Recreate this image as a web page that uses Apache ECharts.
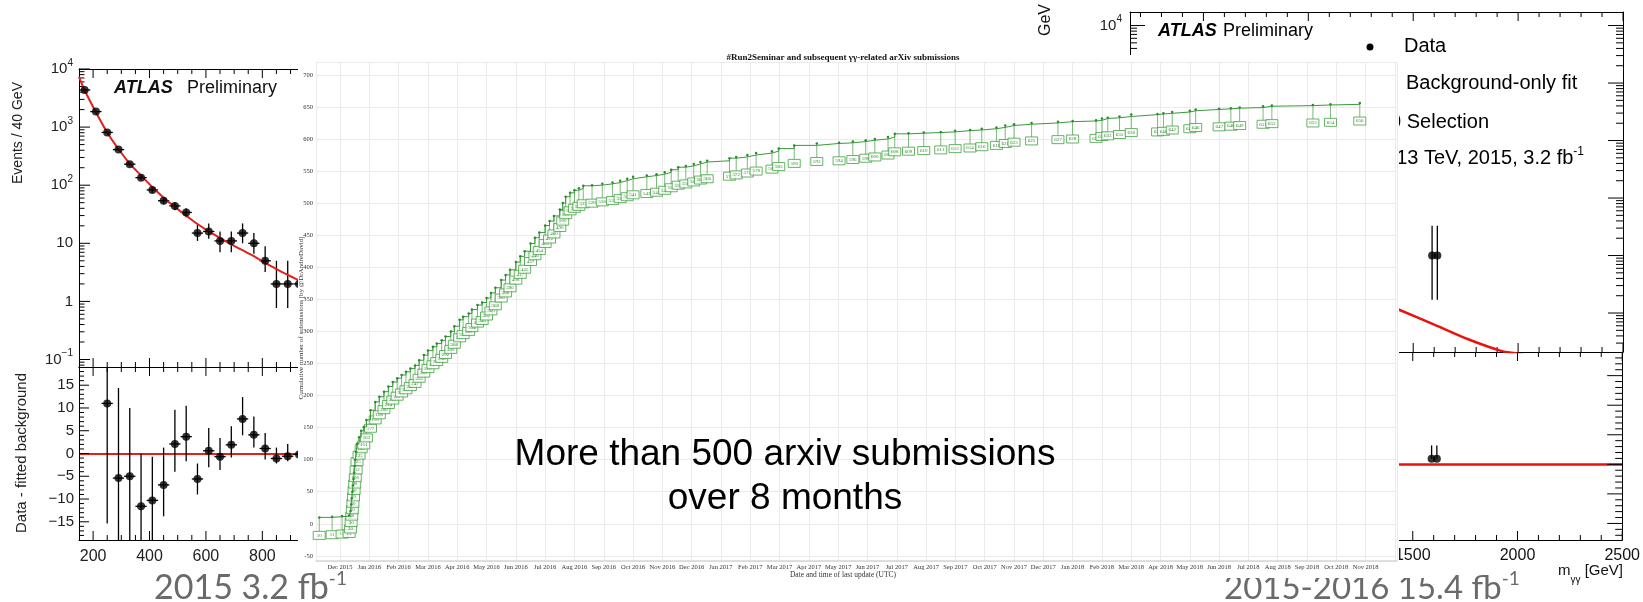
<!DOCTYPE html>
<html><head><meta charset="utf-8">
<script src="https://cdn.jsdelivr.net/npm/echarts@6/dist/echarts.min.js"></script>
<style>html,body{margin:0;padding:0;background:#fff}#c{width:1643px;height:602px}</style>
</head><body><div id="c"></div>
<script>
// ================= DATA =================
// Left panel: ATLAS Preliminary, 2015, 3.2 fb-1 (m_yy in GeV, 40 GeV bins)
const leftMass   = [170,210,250,290,330,370,410,450,490,530,570,610,650,690,730,770,810,850,890,930];
const leftEvents = [4350,1850,810,410,230,135,83,54,44,34,15,16,11,11,15,10,5,2,2,2];
const leftErrHi  = [4420,1890,840,430,245,147,92,62,51,40,21,22,16,16,22,15,8.9,5.0,5.0,5.0];
const leftErrLo  = [4280,1810,780,390,215,123,74,47,37,28,11,12,7,7,10,6.6,3.2,0.77,0.77,0.77];
const leftFitMass = [150,170,210,250,290,330,370,410,450,490,530,570,610,650,690,730,770,810,850,890,930,970];
const leftFit     = [7300,4300,1800,810,420,235,147,93,61,42,30,21.5,16,12.3,9.6,7.6,6.0,4.6,3.6,2.85,2.3,1.85];
const leftResid = [null,null,11.0,-5.4,-5.0,-11.6,-10.3,-6.9,2.1,3.7,-5.6,0.6,-0.7,1.9,7.6,4.1,1.1,-1.1,-0.6,-0.2];
const leftResHi = [null,null,19,14.4,10,0,-0.7,1.3,9.6,10.5,-2.2,5.6,3.4,6.0,12.4,8.1,4.5,1.3,2.1,2.6];
const leftResLo = [null,null,-15.4,-19,-19,-19,-19,-13.8,-4.0,-1.7,-9.0,-3.0,-3.6,-0.9,4.0,1.3,-1.3,-2.2,-1.7,-1.5];

// Middle panel: cumulative yy-related arXiv submissions (x = months after 1 Dec 2015)
const monthLabels = ['Dec 2015','Jan 2016','Feb 2016','Mar 2016','Apr 2016','May 2016','Jun 2016','Jul 2016','Aug 2016','Sep 2016','Oct 2016','Nov 2016','Dec 2016','Jan 2017','Feb 2017','Mar 2017','Apr 2017','May 2017','Jun 2017','Jul 2017','Aug 2017','Sep 2017','Oct 2017','Nov 2017','Dec 2017','Jan 2018','Feb 2018','Mar 2018','Apr 2018','May 2018','Jun 2018','Jul 2018','Aug 2018','Sep 2018','Oct 2018','Nov 2018'];
const submissions = [
[-0.71,10],[-0.27,11],[0.07,12],[0.31,13],[0.36,20],[0.38,30],[0.40,40],[0.42,50],[0.44,60],[0.46,70],[0.48,80],[0.50,90],[0.52,100],[0.55,112],[0.58,125],[0.65,135],[0.72,145],[0.81,151],[0.90,162],[1.04,177],[1.20,190],[1.34,198],[1.50,206],[1.65,214],[1.80,221],[1.95,227],[2.10,232],[2.25,237],[2.40,242],[2.56,247],[2.70,255],[2.86,263],[3.00,270],[3.17,276],[3.30,281],[3.47,286],[3.60,292],[3.78,300],[3.90,308],[4.08,318],[4.20,323],[4.39,328],[4.50,334],[4.69,341],[4.85,345],[5.00,352],[5.15,360],[5.30,368],[5.50,380],[5.65,388],[5.80,396],[6.00,408],[6.15,417],[6.30,425],[6.50,437],[6.65,446],[6.80,454],[7.00,465],[7.15,472],[7.30,480],[7.50,490],[7.60,500],[7.70,510],[7.85,516],[8.00,520],[8.15,523],[8.30,527],[8.60,528],[8.95,530],[9.30,532],[9.56,535],[9.80,538],[10.00,541],[10.47,543],[10.80,545],[11.08,548],[11.30,552],[11.54,556],[11.80,558],[12.07,561],[12.30,564],[12.53,566],[13.29,570],[13.52,572],[13.90,575],[14.20,578],[14.74,581],[14.97,585],[15.50,590],[16.27,593],[17.03,594],[17.50,596],[17.94,598],[18.25,600],[18.70,603],[18.93,608],[19.40,609],[19.92,610],[20.50,611],[20.99,613],[21.50,614],[21.90,616],[22.40,618],[22.70,621],[23.00,623],[23.60,625],[24.50,627],[25.00,628],[25.80,629],[26.00,632],[26.20,633],[26.60,635],[27.00,638],[27.90,639],[28.10,640],[28.40,642],[29.00,644],[29.20,646],[30.00,647],[30.40,648],[30.70,649],[31.50,651],[31.80,652],[33.20,653],[33.80,654],[34.80,656]
];

// Right panel: ATLAS Preliminary 2015-2016 (visible high-mass part only)
const rightMass    = [1590,1615];
const rightEvents  = [1,1];
const rightErrHi   = [3.3,3.3];
const rightErrLo   = [0.17,0.17];
const rightFitMass = [1350,1433,1600,1762,1919,2000,2100];
const rightFit     = [0.15,0.114,0.063,0.035,0.022,0.0195,0.016];
const rightResid   = [0.95,0.95];
const rightResHi   = [3.2,3.2];
const rightResLo   = [0.95,0.95];

// tick values
const decades = [0.01,0.1,1,10,100,1000,10000];
const logMult = [2,3,4,5,6,7,8,9];

// ================= HELPERS =================
const SANS = 'Liberation Sans, Arial, Helvetica, sans-serif';
const SERIF = 'Liberation Serif, Times New Roman, serif';
const FOOT = 'Lato, Open Sans, sans-serif';
const L = {x:[150,969], y1:[0.0743,10000], y2:[-19,19]};
const R = {x:[150,2500], y1:[0.021,17200], y2:[-12.8,19]};

function inRange(v, r){ return v > r[0] && v < r[1]; }
function logMinor(r){ const out=[]; decades.forEach(d=>logMult.forEach(m=>{const v=+(d*m).toPrecision(3); if(inRange(v,r)) out.push(v);})); return out; }
function steps(a,b,s,skip){ const out=[]; for(let v=a; v<=b+1e-9; v+=s){ const vv=+v.toFixed(4); if(!skip || Math.abs(vv/skip-Math.round(vv/skip))>1e-6) out.push(vv);} return out; }

function tickSeries(xi, yi, side, major, minor, lenMaj, lenMin, xr, yr){
  const data=[];
  const add=(v,len)=>{
    if(side==='left') data.push([xr[0],v,len]);
    else if(side==='right') data.push([xr[1],v,len]);
    else if(side==='top') data.push([v,yr[1],len]);
    else data.push([v,yr[0],len]);
  };
  major.forEach(v=>add(v,lenMaj)); minor.forEach(v=>add(v,lenMin));
  return {type:'custom', xAxisIndex:xi, yAxisIndex:yi, z:3, silent:true, data,
    renderItem(params, api){
      const p=api.coord([api.value(0),api.value(1)]); const len=api.value(2);
      let x2=p[0], y2=p[1];
      if(side==='left') x2+=len; else if(side==='right') x2-=len; else if(side==='top') y2+=len; else y2-=len;
      return {type:'line', shape:{x1:p[0],y1:p[1],x2:x2,y2:y2}, style:{stroke:'#000',lineWidth:1}};
    }};
}
function errSeries(xi, yi, xs, vals, lo, hi, hw){
  const data=[];
  xs.forEach((x,i)=>{ if(vals[i]!=null) data.push([x,lo[i],hi[i],vals[i]]); });
  return {type:'custom', xAxisIndex:xi, yAxisIndex:yi, z:3, silent:true, data,
    renderItem(params, api){
      const x=api.value(0);
      const a=api.coord([x,api.value(1)]), b=api.coord([x,api.value(2)]);
      const ch=[{type:'line', shape:{x1:a[0],y1:a[1],x2:b[0],y2:b[1]}, style:{stroke:'#000',lineWidth:1.3}}];
      if(hw){ const c=api.coord([x-hw,api.value(3)]), d=api.coord([x+hw,api.value(3)]);
        ch.push({type:'line', shape:{x1:c[0],y1:c[1],x2:d[0],y2:d[1]}, style:{stroke:'#000',lineWidth:1.3}}); }
      return {type:'group', children:ch};
    }};
}
function pts(xs, ys){ const o=[]; xs.forEach((x,i)=>{ if(ys[i]!=null) o.push([x,ys[i]]); }); return o; }
const powRich = {b:{fontSize:15,fontFamily:SANS,color:'#222',lineHeight:22,verticalAlign:'middle'},
                 s:{fontSize:10,fontFamily:SANS,color:'#222',lineHeight:22,verticalAlign:'top'}};
function pow10(v){ const e=Math.round(Math.log10(v)); if(e===0) return '{b|1}'; if(e===1) return '{b|10}'; return '{b|10}{s|'+(e<0?'\u2212'+(-e):e)+'}'; }
const blackLine = {show:true, onZero:false, lineStyle:{color:'#000',width:1}};
function frameX(grid, pos, r, extra){ return Object.assign({type:'value', gridIndex:grid, position:pos, min:r[0], max:r[1], z:3,
  axisLine:blackLine, axisTick:{show:false}, axisLabel:{show:false}, splitLine:{show:false}}, extra||{}); }
function zeroLine(color, width){ return {silent:true, z:3, symbol:['none','none'], label:{show:false},
  lineStyle:{color:color,width:width,type:'solid'}, data:[{yAxis:0}]}; }

// ================= OPTION =================
const chart = echarts.init(document.getElementById('c'), null, {renderer:'canvas', width:1643, height:602});
const option = {
  animation:false,
  backgroundColor:'#ffffff',
  grid:[
    {left:79, top:69, width:231, height:298},      // 0 left upper
    {left:79, top:367, width:231, height:173},     // 1 left lower
    {left:316, top:62, width:1081, height:499},    // 2 middle
    {left:1130, top:12, width:493, height:340},    // 3 right upper
    {left:1130, top:352, width:493, height:188}    // 4 right lower
  ],
  xAxis:[
    frameX(0,'bottom',L.x),
    frameX(0,'top',L.x),
    frameX(1,'bottom',L.x,{minInterval:200,maxInterval:200,
      axisLabel:{show:true,color:'#222',fontSize:16,fontFamily:SANS,margin:9,showMinLabel:false,showMaxLabel:false,formatter:v=>String(v)}}),
    frameX(1,'top',L.x),
    {type:'value', gridIndex:2, min:-0.82, max:36.07, minInterval:1, maxInterval:1, z:6,
      axisLine:{show:true,onZero:false,lineStyle:{color:'#d6d6d6',width:1.5}}, axisTick:{show:false},
      axisLabel:{formatter:v=>{const i=Math.round(v); return Math.abs(v-i)<1e-6 && monthLabels[i] ? monthLabels[i] : '';},
        fontSize:6.5,color:'#333',fontFamily:SERIF,margin:3,showMinLabel:false,showMaxLabel:false},
      splitLine:{show:true,lineStyle:{color:'#ebebeb',width:1}}},
    frameX(3,'top',R.x),
    frameX(3,'bottom',R.x),
    frameX(4,'top',R.x),
    frameX(4,'bottom',R.x,{minInterval:500,maxInterval:500,
      axisLabel:{show:true,color:'#111',fontSize:16,fontFamily:SANS,margin:8,showMinLabel:false,showMaxLabel:true,formatter:v=>String(v)}})
  ],
  yAxis:[
    {type:'log', logBase:10, gridIndex:0, position:'left', min:L.y1[0], max:L.y1[1], z:3, axisLine:blackLine, axisTick:{show:false},
      splitLine:{show:false}, axisLabel:{formatter:pow10, rich:powRich, margin:6, showMinLabel:false, showMaxLabel:true}},
    {type:'value', gridIndex:1, position:'left', min:L.y2[0], max:L.y2[1], minInterval:5, maxInterval:5, z:3, axisLine:blackLine,
      axisTick:{show:false}, splitLine:{show:false},
      axisLabel:{formatter:v=>v<0?'\u2212'+(-v):String(v), color:'#222', fontSize:15, fontFamily:SANS, margin:5, showMinLabel:false, showMaxLabel:false}},
    {type:'value', gridIndex:2, min:-58, max:720, minInterval:50, maxInterval:50, z:6,
      axisLine:{show:false,onZero:false}, axisTick:{show:false},
      axisLabel:{fontSize:6.5,color:'#333',fontFamily:SERIF,margin:3,showMinLabel:false,showMaxLabel:false},
      splitLine:{show:true,lineStyle:{color:'#ebebeb',width:1}}},
    {type:'log', logBase:10, gridIndex:3, position:'left', min:R.y1[0], max:R.y1[1], z:3, axisLine:blackLine, axisTick:{show:false},
      splitLine:{show:false}, axisLabel:{formatter:pow10, rich:powRich, margin:8, showMinLabel:false, showMaxLabel:false}},
    {type:'log', logBase:10, gridIndex:3, position:'right', min:R.y1[0], max:R.y1[1], z:3, axisLine:blackLine, axisTick:{show:false},
      splitLine:{show:false}, axisLabel:{show:false}},
    {type:'value', gridIndex:4, position:'right', min:R.y2[0], max:R.y2[1], z:3, axisLine:blackLine, axisTick:{show:false},
      splitLine:{show:false}, axisLabel:{show:false}}
  ],
  series:[
    // ---- left upper
    {type:'line', xAxisIndex:0, yAxisIndex:0, z:3, data:pts(leftFitMass,leftFit), smooth:0.3, symbol:'none',
      lineStyle:{color:'#e3201b',width:2}},
    errSeries(0,0,leftMass,leftEvents,leftErrLo,leftErrHi,20),
    {type:'scatter', xAxisIndex:0, yAxisIndex:0, z:4, data:pts(leftMass,leftEvents), symbolSize:8, itemStyle:{color:'#000'}},
    // ---- left lower
    {type:'scatter', xAxisIndex:2, yAxisIndex:1, z:4, data:pts(leftMass,leftResid), symbolSize:8, itemStyle:{color:'#000'},
      markLine:zeroLine('#e3201b',2)},
    errSeries(2,1,leftMass,leftResid,leftResLo,leftResHi,20),
    // ---- left ticks
    tickSeries(0,0,'left',decades.filter(v=>inRange(v,[0.07,10001])),logMinor(L.y1),11,5.5,L.x,L.y1),
    tickSeries(1,0,'top',[200,400,600,800],steps(250,950,50,200),9,5,L.x,L.y1),
    tickSeries(0,0,'bottom',[200,400,600,800],steps(250,950,50,200),9,5,L.x,L.y1),
    tickSeries(3,1,'top',[200,400,600,800],steps(250,950,50,200),9,5,L.x,L.y2),
    tickSeries(2,1,'bottom',[200,400,600,800],steps(250,950,50,200),9,5,L.x,L.y2),
    tickSeries(2,1,'left',[-15,-10,-5,0,5,10,15],steps(-18,18,1,5),10,5,L.x,L.y2),
    // ---- middle: step line and annotation boxes
    {type:'custom', xAxisIndex:4, yAxisIndex:2, z:7, silent:true, data:submissions,
      renderItem(params, api){
        const p=api.coord([api.value(0),api.value(1)]);
        const by=p[1]+14;
        return {type:'group', children:[
          {type:'line', shape:{x1:p[0],y1:p[1],x2:p[0],y2:by}, style:{stroke:'rgba(34,139,34,0.75)',lineWidth:0.8}},
          {type:'rect', shape:{x:p[0]-6,y:by,width:12,height:8}, style:{fill:'rgba(255,255,255,0.8)',stroke:'#3f9f3f',lineWidth:0.8}},
          {type:'text', style:{text:String(api.value(1)), x:p[0], y:by+4, align:'center', verticalAlign:'middle',
            fontSize:5, fontFamily:SERIF, fill:'#2f8a2f'}}
        ]};
      }},
    {type:'line', xAxisIndex:4, yAxisIndex:2, z:8, data:submissions, step:'end', showSymbol:true, showAllSymbol:true,
      symbol:'circle', symbolSize:2.5, itemStyle:{color:'#2e8b2e'}, lineStyle:{color:'#3a9a3a',width:1}},
    // ---- right upper
    {type:'line', xAxisIndex:6, yAxisIndex:3, z:3, data:pts(rightFitMass,rightFit), smooth:0.3, symbol:'none',
      lineStyle:{color:'#e8130f',width:2.5}},
    errSeries(6,3,rightMass,rightEvents,rightErrLo,rightErrHi,0),
    {type:'scatter', xAxisIndex:6, yAxisIndex:3, z:4, data:pts(rightMass,rightEvents), symbolSize:8, itemStyle:{color:'#000'}},
    // ---- right lower
    {type:'scatter', xAxisIndex:8, yAxisIndex:5, z:4, data:pts(rightMass,rightResid), symbolSize:8, itemStyle:{color:'#000'},
      markLine:zeroLine('#e8130f',2.5)},
    errSeries(8,5,rightMass,rightResid,rightResLo,rightResHi,0),
    // ---- right ticks
    tickSeries(5,3,'top',[500,1000,1500,2000,2500],steps(200,2400,100,500),9,5,R.x,R.y1),
    tickSeries(6,3,'bottom',[500,1000,1500,2000,2500],steps(200,2400,100,500),9,5,R.x,R.y1),
    tickSeries(7,5,'top',[500,1000,1500,2000,2500],steps(200,2400,100,500),9,5,R.x,R.y2),
    tickSeries(8,5,'bottom',[500,1000,1500,2000,2500],steps(200,2400,100,500),9,5,R.x,R.y2),
    tickSeries(6,3,'left',decades.filter(v=>inRange(v,R.y1)),logMinor(R.y1),15,7,R.x,R.y1),
    tickSeries(6,4,'right',decades.filter(v=>inRange(v,R.y1)),logMinor(R.y1),15,7,R.x,R.y1),
    tickSeries(8,5,'right',[-10,-5,0,5,10,15],steps(-12,18,1,5),15,7,R.x,R.y2)
  ],
  graphic:{elements:[
    // slide footers (drawn underneath the pasted plots)
    {type:'text', z:1, style:{text:'2015-2016 15.4 fb{s|-1}', x:1224, y:588, textAlign:'left', align:'left', textVerticalAlign:'middle', verticalAlign:'middle',
      fontSize:33, fontFamily:FOOT, fill:'#6a6a6a',
      rich:{s:{fontSize:19,fontFamily:FOOT,fill:'#6a6a6a',lineHeight:38,verticalAlign:'top'}}}},
    {type:'rect', z:2, shape:{x:1399,y:541,width:36,height:37}, style:{fill:'#fff'}},
    // right plot texts (under the middle panel)
    {type:'text', z:3, rotation:Math.PI/2, x:1046, y:20, style:{text:'GeV', x:0, y:0, textAlign:'center', align:'center', textVerticalAlign:'middle', verticalAlign:'middle', fontSize:16, fontFamily:SANS, fill:'#111'}},
    {type:'text', z:3, style:{text:'ATLAS', x:1158, y:31, textVerticalAlign:'middle', verticalAlign:'middle', fontSize:18, fontWeight:'bold', fontStyle:'italic', fontFamily:SANS, fill:'#000'}},
    {type:'text', z:3, style:{text:'Preliminary', x:1223, y:31, textVerticalAlign:'middle', verticalAlign:'middle', fontSize:18, fontFamily:SANS, fill:'#000'}},
    {type:'circle', z:3, shape:{cx:1370, cy:47, r:3.5}, style:{fill:'#000'}},
    {type:'text', z:3, style:{text:'Data', x:1404, y:46, textVerticalAlign:'middle', verticalAlign:'middle', fontSize:20, fontFamily:SANS, fill:'#000'}},
    {type:'text', z:3, style:{text:'Background-only fit', x:1406, y:83, textVerticalAlign:'middle', verticalAlign:'middle', fontSize:20, fontFamily:SANS, fill:'#000'}},
    {type:'text', z:3, style:{text:'Spin-0 Selection', x:1489, y:122, textAlign:'right', align:'right', textVerticalAlign:'middle', verticalAlign:'middle', fontSize:20, fontFamily:SANS, fill:'#000'}},
    {type:'text', z:3, style:{text:'\u221As = 13 TeV, 2015, 3.2 fb{s|-1}', x:1584, y:158, textAlign:'right', align:'right', textVerticalAlign:'middle', verticalAlign:'middle', fontSize:20, fontFamily:SANS, fill:'#000',
      rich:{s:{fontSize:12,fontFamily:SANS,fill:'#000',lineHeight:24,verticalAlign:'top'}}}},
    {type:'text', z:3, style:{text:'{a|m}{b|\u03B3\u03B3}{a| [GeV]}', x:1623, y:574, textAlign:'right', align:'right', textVerticalAlign:'middle', verticalAlign:'middle',
      rich:{a:{fontSize:15,fontFamily:SANS,fill:'#111',lineHeight:22,verticalAlign:'top'},b:{fontSize:10,fontFamily:SANS,fill:'#111',lineHeight:22,verticalAlign:'bottom'}}}},
    // left plot texts
    {type:'text', z:3, rotation:Math.PI/2, x:18, y:133, style:{text:'Events / 40 GeV', x:0, y:0, textAlign:'center', align:'center', textVerticalAlign:'middle', verticalAlign:'middle', fontSize:14, fontFamily:SANS, fill:'#222'}},
    {type:'text', z:3, rotation:Math.PI/2, x:22, y:453, style:{text:'Data - fitted background', x:0, y:0, textAlign:'center', align:'center', textVerticalAlign:'middle', verticalAlign:'middle', fontSize:15, fontFamily:SANS, fill:'#222'}},
    {type:'text', z:3, style:{text:'ATLAS', x:114, y:88, textVerticalAlign:'middle', verticalAlign:'middle', fontSize:18, fontWeight:'bold', fontStyle:'italic', fontFamily:SANS, fill:'#111'}},
    {type:'text', z:3, style:{text:'Preliminary', x:187, y:88, textVerticalAlign:'middle', verticalAlign:'middle', fontSize:18, fontFamily:SANS, fill:'#111'}},
    // middle panel (pasted on top)
    {type:'rect', z:5, shape:{x:298,y:55,width:1101,height:523}, style:{fill:'#fff'}},
    {type:'text', z:9, style:{text:'#Run2Seminar and subsequent \u03B3\u03B3-related arXiv submissions', x:843, y:58, textAlign:'center', align:'center', textVerticalAlign:'middle', verticalAlign:'middle', fontSize:9, fontWeight:'bold', fontFamily:SERIF, fill:'#111'}},
    {type:'text', z:9, rotation:Math.PI/2, x:301, y:318, style:{text:'Cumulative number of submissions [by @DrAndreDavid]', x:0, y:0, textAlign:'center', align:'center', textVerticalAlign:'middle', verticalAlign:'middle', fontSize:7, fontFamily:SERIF, fill:'#333'}},
    {type:'text', z:9, style:{text:'Date and time of last update (UTC)', x:843, y:575, textAlign:'center', align:'center', textVerticalAlign:'middle', verticalAlign:'middle', fontSize:7.5, fontFamily:SERIF, fill:'#333'}},
    {type:'text', z:10, style:{text:'More than 500 arxiv submissions', x:785, y:455, textAlign:'center', align:'center', textVerticalAlign:'middle', verticalAlign:'middle', fontSize:37, fontFamily:SANS, fill:'#000'}},
    {type:'text', z:10, style:{text:'over 8 months', x:785, y:499, textAlign:'center', align:'center', textVerticalAlign:'middle', verticalAlign:'middle', fontSize:37, fontFamily:SANS, fill:'#000'}},
    // left footer
    {type:'text', z:10, style:{text:'2015 3.2 fb{s|-1}', x:154, y:588, textAlign:'left', align:'left', textVerticalAlign:'middle', verticalAlign:'middle',
      fontSize:34, fontFamily:FOOT, fill:'#6a6a6a',
      rich:{s:{fontSize:19,fontFamily:FOOT,fill:'#6a6a6a',lineHeight:38,verticalAlign:'top'}}}}
  ]}
};
chart.setOption(option);
</script>
</body></html>
